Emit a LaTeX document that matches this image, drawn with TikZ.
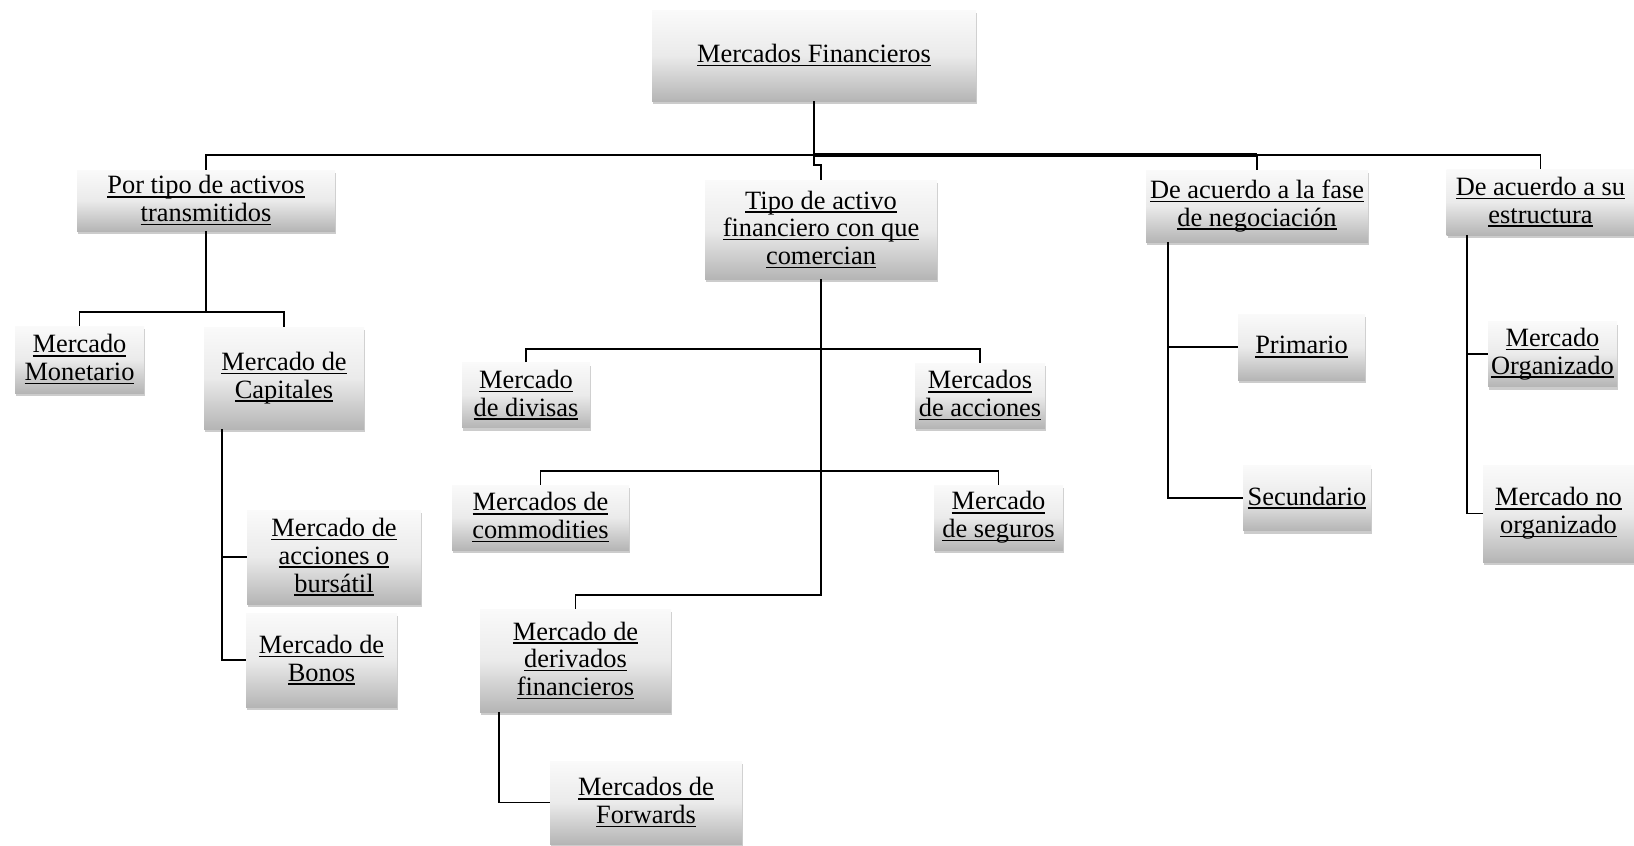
\documentclass[tikz,border=0pt]{standalone}
\usepackage{fontspec}
\setmainfont{Liberation Serif}
\usetikzlibrary{shadows}
\newcommand\ulx[1]{\setbox0\hbox{#1}\rlap{\rule[-1.8pt]{\wd0}{0.75pt}}\box0}
\tikzset{
  box/.style={rectangle, inner sep=0pt, align=center,
    top color=white!98!black, bottom color=white!71!black, middle color=white!92!black,
    drop shadow={shadow xshift=0.6pt, shadow yshift=-1.6pt, opacity=0.4},
    font=\fontsize{13.2}{13.9}\selectfont},
  sz/.style 2 args={minimum width={(#1)*0.5pt}, minimum height={(#2)*0.5pt}},
  conn/.style={line width=0.9pt, black},
}
\begin{document}
\begin{tikzpicture}[x=0.5pt,y=-0.5pt]
\useasboundingbox (0,0) rectangle (1634,846);
\fill[white] (0,0) rectangle (1634,846);
% nodes
\node[box,sz={324}{91}] (root) at (814,55.5) {\ulx{Mercados Financieros}};
\node[box,sz={258}{61}] (por) at (206,200.5) {\ulx{Por tipo de activos}\\\ulx{transmitidos}};
\node[box,sz={232}{99}] (tipo) at (821,229.5) {\ulx{Tipo de activo}\\\ulx{financiero con que}\\\ulx{comercian}};
\node[box,sz={222}{72}] (fase) at (1257,206) {\ulx{De acuerdo a la fase}\\\ulx{de negociación}};
\node[box,sz={188}{66}] (estr) at (1540.5,202) {\ulx{De acuerdo a su}\\\ulx{estructura}};
\node[box,sz={129}{67}] (mon) at (79.5,359.5) {\ulx{Mercado}\\\ulx{Monetario}};
\node[box,sz={160}{102}] (cap) at (284,378) {\ulx{Mercado de}\\\ulx{Capitales}};
\node[box,sz={174}{94}] (accb) at (334,557) {\ulx{Mercado de}\\\ulx{acciones o}\\\ulx{bursátil}};
\node[box,sz={151}{94}] (bonos) at (321.5,660) {\ulx{Mercado de}\\\ulx{Bonos}};
\node[box,sz={128}{65}] (div) at (526,395) {\ulx{Mercado}\\\ulx{de divisas}};
\node[box,sz={130}{65}] (acc) at (980,395.5) {\ulx{Mercados}\\\ulx{de acciones}};
\node[box,sz={177}{65}] (comm) at (540.5,517.5) {\ulx{Mercados de}\\\ulx{commodities}};
\node[box,sz={129}{65}] (seg) at (998.5,517.5) {\ulx{Mercado}\\\ulx{de seguros}};
\node[box,sz={191}{103}] (deriv) at (575.5,660.5) {\ulx{Mercado de}\\\ulx{derivados}\\\ulx{financieros}};
\node[box,sz={192}{83}] (fwd) at (646,802.5) {\ulx{Mercados de}\\\ulx{Forwards}};
\node[box,sz={127}{66}] (prim) at (1301.5,347) {\ulx{Primario}};
\node[box,sz={128}{65}] (sec) at (1307,498) {\ulx{Secundario}};
\node[box,sz={129}{65}] (org) at (1552.5,354) {\ulx{Mercado}\\\ulx{Organizado}};
\node[box,sz={151}{97}] (norg) at (1558.5,513.5) {\ulx{Mercado no}\\\ulx{organizado}};
% coordinates
\coordinate (hub) at (814,155);
\coordinate (pb) at (206,312);
\coordinate (cx) at (222,0);
\coordinate (t1) at (821,349);
\coordinate (t2) at (821,471);
\coordinate (t3) at (821,595);
\coordinate (dx) at (499,0);
\coordinate (fx) at (1168,0);
\coordinate (ex) at (1467,0);
% connectors
\draw[conn, line width=1.4pt] (root.south) -- (hub);
\draw[conn] (por.north) |- (hub);
\draw[conn, line width=1.6pt] (hub) -- (fase.north |- hub);
\draw[conn] (fase.north |- hub) -- (fase.north);
\draw[conn] (fase.north |- hub) -| (estr.north);
\draw[conn] (hub) -- ++(0,10) -| (tipo.north);
\draw[conn] (por.south) -- (pb);
\draw[conn] (mon.north) |- (pb) -| (cap.north);
\draw[conn] (cap.south -| cx) |- (bonos.west);
\draw[conn] (cap.south -| cx) |- (accb.west);
\draw[conn] (tipo.south) -- (t3) -| (deriv.north);
\draw[conn] (div.north) |- (t1) -| (acc.north);
\draw[conn] (comm.north) |- (t2) -| (seg.north);
\draw[conn] (deriv.south -| dx) |- (fwd.west);
\draw[conn] (fase.south -| fx) |- (prim.west);
\draw[conn] (fase.south -| fx) |- (sec.west);
\draw[conn] (estr.south -| ex) |- (org.west);
\draw[conn] (estr.south -| ex) |- (norg.west);
\end{tikzpicture}
\end{document}
